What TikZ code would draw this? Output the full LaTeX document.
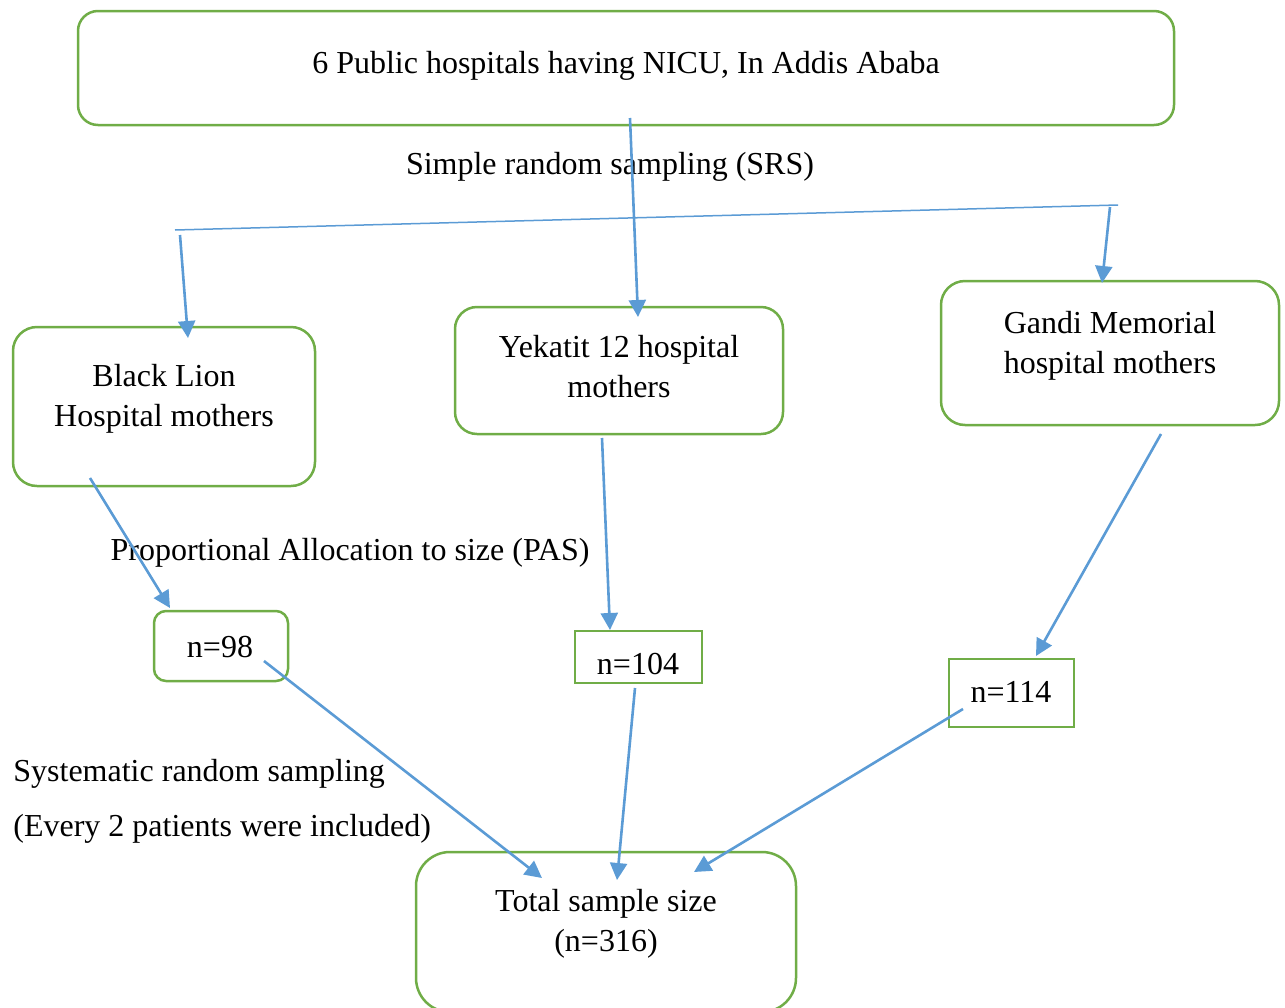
\documentclass[tikz,border=0pt]{standalone}
\usepackage{fontspec}
\setmainfont{Liberation Serif}
\usetikzlibrary{arrows.meta}
\definecolor{boxgreen}{RGB}{112,173,71}
\definecolor{arrowblue}{RGB}{91,155,213}
\tikzset{
  gbox/.style={draw=boxgreen, line width=1.25pt, inner sep=0pt},
  lbl/.style={inner sep=0pt, align=center, font=\fontsize{16pt}{20pt}\selectfont},
  arr/.style={draw=arrowblue, line width=1.3pt, -{Triangle[length=8.5pt,width=8.5pt]}},
  thin/.style={draw=arrowblue, line width=0.75pt}
}
\begin{document}
\begin{tikzpicture}[x=0.5pt,y=-0.5pt]
\useasboundingbox (0,0) rectangle (1285,1007);
% boxes
\node[gbox, rounded corners=10pt, minimum width=548pt, minimum height=57pt] (top) at (626,68) {};
\node[gbox, rounded corners=12pt, minimum width=151pt, minimum height=79.5pt] (bl) at (164,406.5) {};
\node[gbox, rounded corners=11pt, minimum width=164pt, minimum height=63.5pt] (yk) at (619,370.5) {};
\node[gbox, rounded corners=12pt, minimum width=169pt, minimum height=72pt] (gm) at (1110,353) {};
\node[gbox, rounded corners=6pt, minimum width=67pt, minimum height=35pt] (n98) at (221,646) {};
\node[gbox, minimum width=63.5pt, minimum height=26pt] (n104) at (638.5,657) {};
\node[gbox, minimum width=62.5pt, minimum height=34pt] (n114) at (1011.5,693) {};
\node[gbox, rounded corners=17pt, minimum width=190pt, minimum height=80pt] (tot) at (606,932) {};
% texts
\node[lbl] (ttop) at (626,66) {6 Public hospitals having NICU, In Addis Ababa};
\node[lbl] (tsrs) at (610,167) {Simple random sampling (SRS)};
\node[lbl] (tbl) at (164,399) {Black Lion\\Hospital mothers};
\node[lbl] (tyk) at (619,367) {Yekatit 12 hospital\\mothers};
\node[lbl] (tgm) at (1110,346) {Gandi Memorial\\hospital mothers};
\node[lbl] (tpas) at (350,553) {Proportional Allocation to size (PAS)};
\node[lbl] (t98) at (220,647) {n=98};
\node[lbl] (t104) at (638,664) {n=104};
\node[lbl] (t114) at (1011,692) {n=114};
\node[lbl, anchor=west] (tsys) at (13,774) {Systematic random sampling};
\node[lbl, anchor=west] (tevery) at (13,829) {(Every 2 patients were included)};
\node[lbl] (ttot) at (606,924) {Total sample size\\(n=316)};
% coordinates
\coordinate (hl) at (175,230);
\coordinate (hr) at (1118,205);
\coordinate (a1s) at (630,118);
\coordinate (a1e) at (638,317);
\coordinate (a2s) at (180,235);
\coordinate (a2e) at (188,338);
\coordinate (a3s) at (1110,207);
\coordinate (a3e) at (1102,283);
\coordinate (a4s) at (90,478);
\coordinate (a4e) at (170,608);
\coordinate (a5s) at (602,438);
\coordinate (a5e) at (610,630);
\coordinate (a6s) at (1161,434);
\coordinate (a6e) at (1036,656);
\coordinate (a7s) at (264,661);
\coordinate (a7e) at (542,878);
\coordinate (a8s) at (635,688);
\coordinate (a8e) at (617,880);
\coordinate (a9s) at (963,709);
\coordinate (a9e) at (694,872);
% connectors
\draw[thin] (hl) -- (hr);
\draw[arr] (a1s) -- (a1e);
\draw[arr] (a2s) -- (a2e);
\draw[arr] (a3s) -- (a3e);
\draw[arr] (a4s) -- (a4e);
\draw[arr] (a5s) -- (a5e);
\draw[arr] (a6s) -- (a6e);
\draw[arr] (a7s) -- (a7e);
\draw[arr] (a8s) -- (a8e);
\draw[arr] (a9s) -- (a9e);
\end{tikzpicture}
\end{document}
